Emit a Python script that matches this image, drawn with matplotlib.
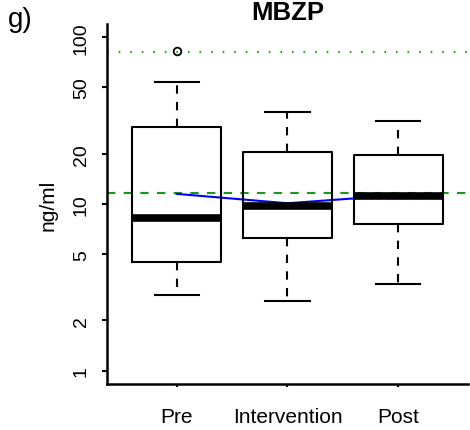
import matplotlib
matplotlib.use("Agg")
import matplotlib.pyplot as plt

plt.rcParams['font.family'] = ['Liberation Sans', 'DejaVu Sans']

# values (ng/ml)
groups = ["Pre", "Intervention", "Post"]
q1 = [4.51, 6.23, 7.59]
medians = [8.24, 9.77, 11.2]
q3 = [28.8, 20.4, 19.8]
whis_lo = [2.86, 2.63, 3.33]
whis_hi = [54.2, 35.5, 31.3]
outliers = [[82.4], [], []]
means = [11.5, 10.1, 11.3]
ref_dashed = 11.7
ref_dotted = 81.6
yticks = [1, 2, 5, 10, 20, 50, 100]

stats = []
for i, g in enumerate(groups):
    stats.append(dict(label=g, q1=q1[i], med=medians[i], q3=q3[i],
                      whislo=whis_lo[i], whishi=whis_hi[i], fliers=outliers[i]))

fig = plt.figure(figsize=(4.7, 4.31), dpi=100)
ax = fig.add_axes([0.2283, 0.106, 0.7667, 0.836])

pos = [1, 2, 3]
ax.axhline(ref_dashed, color='#17991a', lw=1.5, ls=(0, (4, 4)))
ax.axhline(ref_dotted, color='#1fb81f', lw=1.6, ls=(0, (0.8, 4.4)))
ax.plot(pos, means, color='#0000ff', lw=1.5)

ax.bxp(stats, positions=pos, widths=0.8, capwidths=0.4,
       boxprops=dict(color='k', lw=1.5),
       whiskerprops=dict(color='k', lw=1.5, ls=(0, (4, 4))),
       capprops=dict(color='k', lw=1.5),
       medianprops=dict(color='k', lw=5.5, solid_capstyle='butt'),
       flierprops=dict(marker='o', markerfacecolor='none', markeredgecolor='k',
                       markersize=5.5, markeredgewidth=1.3))

ax.set_yscale('log')
ax.set_ylim(0.828, 120.2)
ax.set_xlim(0.374, 3.626)
ax.set_yticks(yticks)
ax.set_yticklabels([str(t) for t in yticks], rotation=90, va='center')
ax.minorticks_off()
ax.set_xticks(pos)
ax.set_xticklabels(groups)

for s in ['top', 'right']:
    ax.spines[s].set_visible(False)
for s in ['left', 'bottom']:
    ax.spines[s].set_linewidth(1.8)
ax.tick_params(axis='y', length=3.5, width=1.5, pad=9, labelsize=14)
ax.tick_params(axis='x', length=2.5, width=1.5, pad=14, labelsize=15)

ax.set_ylabel('ng/ml', fontsize=15, labelpad=11)
ax.set_title('MBZP', fontsize=18.5, fontweight='bold', pad=1.5)
fig.text(8 / 470, 1 - 27 / 431, 'g)', fontsize=20, va='baseline', ha='left')

fig.savefig('out.png', dpi=100)
